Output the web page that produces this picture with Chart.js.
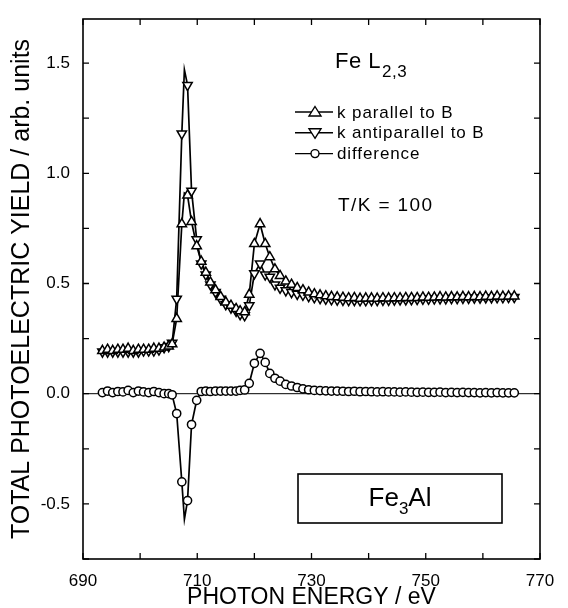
<!DOCTYPE html>
<html>
<head>
<title>Fe L2,3 total photoelectric yield</title>
<script src="https://cdn.jsdelivr.net/npm/chart.js"></script>
<style>
  body { margin: 0; background: #fff; }
</style>
</head>
<body>
<canvas id="yieldChart" width="568" height="608"></canvas>
<script>
// photon energy of each measured point (eV)
const energy = [
  693.4, 694.3, 695.2, 696.1, 697.0, 697.9, 698.8, 699.7, 700.6, 701.5,
  702.4, 703.3, 704.2, 705.0, 705.6, 706.4, 707.3, 708.3, 709.0, 709.9,
  710.7, 711.5, 712.3, 713.2, 714.1, 715.0, 715.9, 716.8, 717.5, 718.3,
  719.1, 720.0, 721.0, 721.9, 722.7, 723.6, 724.5, 725.5, 726.5, 727.5,
  728.5, 729.5, 730.5, 731.5, 732.5, 733.5, 734.5, 735.5, 736.5, 737.5,
  738.5, 739.5, 740.5, 741.5, 742.5, 743.5, 744.5, 745.5, 746.5, 747.5,
  748.5, 749.5, 750.5, 751.5, 752.5, 753.5, 754.5, 755.5, 756.5, 757.5,
  758.5, 759.5, 760.5, 761.5, 762.5, 763.5, 764.5, 765.5
];
// k parallel to B
const parallel = [
  0.195, 0.200, 0.195, 0.200, 0.200, 0.205, 0.195, 0.200, 0.200, 0.200,
  0.205, 0.205, 0.210, 0.215, 0.225, 0.340, 0.770, 0.900, 0.780, 0.670,
  0.600, 0.550, 0.505, 0.470, 0.440, 0.415, 0.400, 0.385, 0.375, 0.370,
  0.450, 0.680, 0.770, 0.680, 0.620, 0.565, 0.535, 0.510, 0.495, 0.480,
  0.470, 0.460, 0.452, 0.447, 0.443, 0.440, 0.438, 0.436, 0.434, 0.435,
  0.432, 0.433, 0.433, 0.432, 0.434, 0.433, 0.434, 0.434, 0.435, 0.435,
  0.435, 0.437, 0.436, 0.437, 0.439, 0.437, 0.439, 0.438, 0.440, 0.439,
  0.440, 0.439, 0.441, 0.440, 0.442, 0.441, 0.442, 0.442
];
// k antiparallel to B
const antiparallel = [
  0.190, 0.190, 0.190, 0.190, 0.190, 0.190, 0.190, 0.190, 0.195, 0.195,
  0.195, 0.200, 0.210, 0.215, 0.230, 0.430, 1.180, 1.400, 0.920, 0.700,
  0.590, 0.540, 0.495, 0.460, 0.430, 0.405, 0.390, 0.375, 0.360, 0.355,
  0.400, 0.545, 0.590, 0.540, 0.530, 0.495, 0.480, 0.468, 0.460, 0.452,
  0.448, 0.442, 0.437, 0.433, 0.430, 0.428, 0.426, 0.425, 0.424, 0.424,
  0.423, 0.423, 0.424, 0.424, 0.425, 0.425, 0.426, 0.427, 0.427, 0.428,
  0.429, 0.430, 0.430, 0.431, 0.432, 0.432, 0.433, 0.433, 0.434, 0.434,
  0.435, 0.435, 0.436, 0.436, 0.437, 0.437, 0.438, 0.438
];
// difference (parallel - antiparallel)
const difference = [
  0.005, 0.012, 0.005, 0.010, 0.008, 0.015, 0.005, 0.012, 0.008, 0.005,
  0.010, 0.005, 0.000, 0.000, -0.005, -0.090, -0.400, -0.485, -0.140, -0.030,
  0.010, 0.012, 0.010, 0.012, 0.012, 0.012, 0.012, 0.012, 0.015, 0.017,
  0.047, 0.138, 0.183, 0.142, 0.092, 0.070, 0.057, 0.042, 0.035, 0.028,
  0.022, 0.018, 0.015, 0.014, 0.013, 0.012, 0.012, 0.011, 0.010, 0.011,
  0.009, 0.010, 0.009, 0.008, 0.009, 0.008, 0.008, 0.007, 0.008, 0.007,
  0.006, 0.007, 0.006, 0.006, 0.007, 0.005, 0.006, 0.005, 0.006, 0.005,
  0.005, 0.004, 0.005, 0.004, 0.005, 0.004, 0.004, 0.004
];
// the drawn curves run through a sharp tip between the L3 points
const tipEnergy = 707.75;
const parallelTip = 0.91;
const antiparallelTip = 1.47;
const differenceTip = -0.57;

const xTickValues = [690, 700, 710, 720, 730, 740, 750, 760, 770];
const xLabels = [690, 710, 730, 750, 770];
const yTickValues = [-0.75, -0.5, -0.25, 0, 0.25, 0.5, 0.75, 1.0, 1.25, 1.5];
const yLabels = [-0.5, 0, 0.5, 1.0, 1.5];

const FONT = "'Liberation Sans', Arial, Helvetica, sans-serif";

function points(ys) {
  return energy.map((e, i) => ({ x: e, y: ys[i] }));
}
function curve(ys, tip) {
  const pts = points(ys);
  pts.push({ x: tipEnergy, y: tip });
  return pts.sort((a, b) => a.x - b.x);
}

const markerStyle = {
  showLine: false,
  pointBackgroundColor: '#fff',
  pointBorderColor: '#000',
  pointBorderWidth: 1.5,
  order: 1
};
const lineStyle = {
  borderColor: '#000',
  borderWidth: 1.7,
  pointRadius: 0,
  tension: 0,
  order: 2
};

function text(ctx, str, x, y, size, spacing) {
  ctx.font = size + 'px ' + FONT;
  ctx.letterSpacing = (spacing || 0) + 'px';
  ctx.fillText(str, x, y);
  const w = ctx.measureText(str).width;
  ctx.letterSpacing = '0px';
  return w;
}

// inward ticks on all four sides, box, zero line and the text inside the plot
const decorations = {
  id: 'decorations',
  beforeDatasetsDraw(chart) {
    const { ctx, chartArea: a, scales: { y } } = chart;
    ctx.save();
    ctx.strokeStyle = '#000';
    ctx.lineWidth = 1;
    const y0 = y.getPixelForValue(0);
    ctx.beginPath();
    ctx.moveTo(a.left, y0);
    ctx.lineTo(a.right, y0);
    ctx.stroke();
    ctx.restore();
  },
  afterDraw(chart) {
    const { ctx, chartArea: a, scales: { x, y } } = chart;
    ctx.save();
    ctx.strokeStyle = '#000';
    ctx.lineWidth = 1.6;
    ctx.strokeRect(a.left, a.top, a.right - a.left, a.bottom - a.top);
    const t = 6;
    ctx.lineWidth = 1.3;
    ctx.beginPath();
    xTickValues.forEach(v => {
      const px = x.getPixelForValue(v);
      ctx.moveTo(px, a.bottom); ctx.lineTo(px, a.bottom - t);
      ctx.moveTo(px, a.top); ctx.lineTo(px, a.top + t);
    });
    yTickValues.forEach(v => {
      const py = y.getPixelForValue(v);
      ctx.moveTo(a.left, py); ctx.lineTo(a.left + t, py);
      ctx.moveTo(a.right, py); ctx.lineTo(a.right - t, py);
    });
    ctx.stroke();

    ctx.fillStyle = '#000';
    ctx.textBaseline = 'alphabetic';
    // Fe L2,3
    const w = text(ctx, 'Fe L', 335, 68, 22, 0.5);
    text(ctx, '2,3', 335 + w + 1, 77, 17, 0.5);

    // legend
    const rows = [
      { label: 'k parallel to B', mark: 'up' },
      { label: 'k antiparallel to B', mark: 'down' },
      { label: 'difference', mark: 'circle' }
    ];
    const lx = 295, ly = 112;
    rows.forEach((r, i) => {
      const cy = ly + i * 20.8;
      ctx.lineWidth = 1.4;
      ctx.beginPath();
      ctx.moveTo(lx, cy); ctx.lineTo(lx + 38, cy);
      ctx.stroke();
      const cx = lx + 20;
      ctx.beginPath();
      if (r.mark === 'up') {
        ctx.moveTo(cx, cy - 5.5); ctx.lineTo(cx + 6, cy + 4); ctx.lineTo(cx - 6, cy + 4);
        ctx.closePath();
      } else if (r.mark === 'down') {
        ctx.moveTo(cx, cy + 5.5); ctx.lineTo(cx + 6, cy - 4); ctx.lineTo(cx - 6, cy - 4);
        ctx.closePath();
      } else {
        ctx.arc(cx, cy, 4, 0, Math.PI * 2);
      }
      ctx.fillStyle = '#fff';
      ctx.fill();
      ctx.stroke();
      ctx.fillStyle = '#000';
      ctx.textBaseline = 'middle';
      text(ctx, r.label, lx + 42, cy + 1, 17, 0.9);
    });

    ctx.textBaseline = 'alphabetic';
    text(ctx, 'T/K = 100', 338, 211, 19, 1.4);

    // Fe3Al box
    ctx.lineWidth = 1.6;
    ctx.strokeRect(298, 474, 204, 49);
    ctx.font = '26px ' + FONT;
    const fe = ctx.measureText('Fe').width;
    const al = ctx.measureText('Al').width;
    ctx.font = '17px ' + FONT;
    const three = ctx.measureText('3').width;
    const tx = 400 - (fe + three + al) / 2;
    const by = 506;
    text(ctx, 'Fe', tx, by, 26);
    text(ctx, '3', tx + fe, by + 8, 17);
    text(ctx, 'Al', tx + fe + three, by, 26);
    ctx.restore();
  }
};

new Chart(document.getElementById('yieldChart'), {
  type: 'scatter',
  data: {
    datasets: [
      { ...markerStyle, label: 'k parallel to B', data: points(parallel), pointStyle: 'triangle', pointRadius: 5.4 },
      { ...markerStyle, label: 'k antiparallel to B', data: points(antiparallel), pointStyle: 'triangle', pointRotation: 180, pointRadius: 5.4 },
      { ...markerStyle, label: 'difference', data: points(difference), pointStyle: 'circle', pointRadius: 4.1 },
      { ...lineStyle, type: 'line', data: curve(parallel, parallelTip) },
      { ...lineStyle, type: 'line', data: curve(antiparallel, antiparallelTip) },
      { ...lineStyle, type: 'line', data: curve(difference, differenceTip) }
    ]
  },
  options: {
    responsive: false,
    animation: false,
    layout: { padding: { top: 19, right: 28, left: 0, bottom: 0 } },
    plugins: { legend: { display: false }, tooltip: { enabled: false } },
    scales: {
      x: {
        type: 'linear',
        min: 690, max: 770,
        afterFit(scale) { scale.height = 49; },
        afterBuildTicks(scale) { scale.ticks = xTickValues.map(v => ({ value: v })); },
        grid: { display: false },
        border: { display: false },
        ticks: {
          color: '#000', padding: 4, maxRotation: 0, autoSkip: false,
          font: { family: FONT, size: 17 },
          callback: v => xLabels.includes(v) ? String(v) : ''
        },
        title: {
          display: true, text: 'PHOTON ENERGY / eV', color: '#000',
          font: { family: FONT, size: 23 }, padding: { top: 0, bottom: -3 }
        }
      },
      y: {
        type: 'linear',
        min: -0.75, max: 1.7,
        afterFit(scale) { scale.width = 83; },
        afterBuildTicks(scale) { scale.ticks = yTickValues.map(v => ({ value: v })); },
        grid: { display: false },
        border: { display: false },
        ticks: {
          color: '#000', padding: 5, autoSkip: false,
          font: { family: FONT, size: 17 },
          callback: v => yLabels.includes(v) ? v.toFixed(1) : ''
        },
        title: {
          display: true, text: 'TOTAL PHOTOELECTRIC YIELD / arb. units', color: '#000',
          font: { family: FONT, size: 25 }, padding: { top: 7, bottom: 0 }
        }
      }
    }
  },
  plugins: [decorations]
});
</script>
</body>
</html>
